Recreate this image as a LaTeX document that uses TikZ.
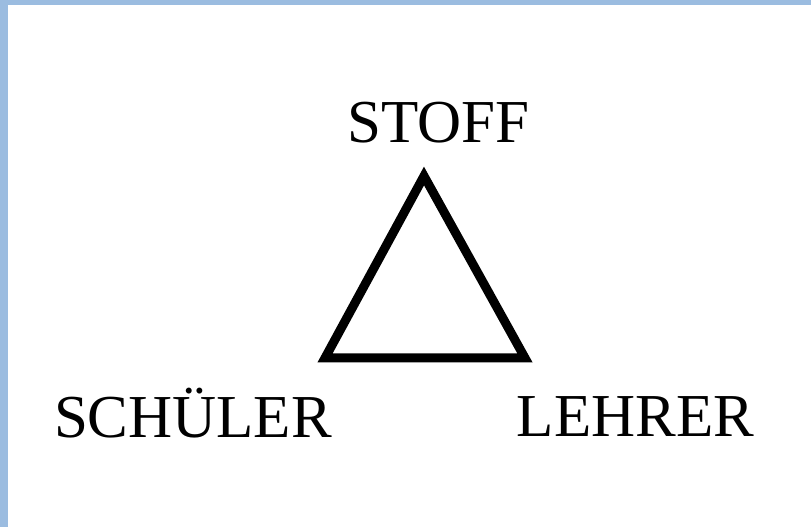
\documentclass[tikz,border=0pt]{standalone}
\usepackage{fontspec}
\setmainfont{Liberation Serif}
\definecolor{framblue}{HTML}{9BBCE0}
\begin{document}
\begin{tikzpicture}[x=1pt,y=1pt,
  lbl/.style={anchor=base,inner sep=0pt,font=\fontsize{61}{61}\selectfont},
  tri/.style={line width=9pt,line join=miter}]
\useasboundingbox (0,0) rectangle (811,527);
\fill[white] (0,0) rectangle (811,527);
\fill[framblue] (0,522) rectangle (811,527);
\fill[framblue] (0,0) rectangle (8,527);
\node[lbl] (stoff) at (438.5,384) {STOFF};
\node[lbl] (schueler) at (193,89) {SCHÜLER};
\node[lbl] (lehrer) at (635.5,90) {LEHRER};
\coordinate (top) at (424,351);
\coordinate (bl) at (325,169);
\coordinate (br) at (525,169);
\draw[tri] (top) -- (br) -- (bl) -- cycle;
\end{tikzpicture}
\end{document}
